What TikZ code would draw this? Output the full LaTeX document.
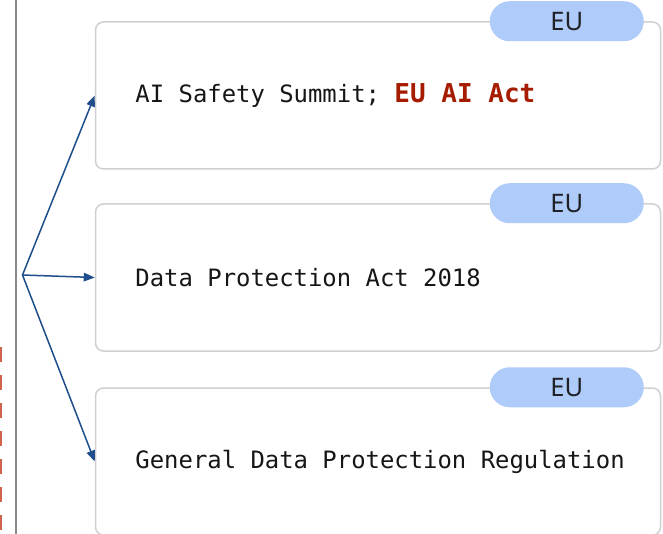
\documentclass[tikz,border=0pt]{standalone}
\usepackage{fontspec}
\setmonofont{DejaVu Sans Mono}
\newfontfamily\pillfont{Noto Sans}
\usetikzlibrary{arrows.meta,calc}
\definecolor{boxgray}{HTML}{D0D0D0}
\definecolor{railgray}{HTML}{8A8A8A}
\definecolor{pillblue}{HTML}{AECBFA}
\definecolor{pilltext}{HTML}{202124}
\definecolor{titleink}{HTML}{161616}
\definecolor{linkblue}{HTML}{1F4E8C}
\definecolor{actred}{HTML}{A61C00}
\definecolor{dashred}{HTML}{D0634C}
\newcommand{\actmark}[1]{{\fontsize{26pt}{28pt}\selectfont\bfseries\color{actred}#1}}
\tikzset{
  lawbox/.style={draw=boxgray, line width=1.5pt, rounded corners=8pt, fill=white,
    minimum height=147pt, minimum width=565pt, inner sep=0pt},
  lawtext/.style={anchor=west, inner sep=0pt, text=titleink,
    font=\ttfamily\fontsize{23.9pt}{28pt}\selectfont},
  regionpill/.style={fill=pillblue, rounded corners=20pt, minimum width=154pt,
    minimum height=40pt, inner sep=0pt, text=pilltext,
    font=\pillfont\fontsize{25.5pt}{28pt}\selectfont},
  link/.style={draw=linkblue, line width=1.5pt, -{Triangle[length=11pt,width=8.5pt]}}
}
\begin{document}
\begin{tikzpicture}[x=1pt,y=-1pt]
  \fill[white] (0,0) rectangle (663,534);
  \useasboundingbox (0,0) rectangle (663,534);

  % timeline rail and dashed marker
  \draw[railgray, line width=2pt] (15.5,0) -- (15.5,534);
  \draw[dashred, line width=2.2pt, dash pattern=on 15pt off 13pt] (0.5,347) -- (0.5,534);

  % event boxes
  \node[lawbox] (b1) at (378,95.5) {};
  \node[lawbox] (b2) at (378,277.5) {};
  \node[lawbox] (b3) at (378,461.5) {};

  % event titles
  \node[lawtext] (t1) at ($(b1.west)+(40.5,0)$) {AI Safety Summit; \actmark{EU AI Act}};
  \node[lawtext] (t2) at ($(b2.west)+(40.5,0)$) {Data Protection Act 2018};
  \node[lawtext] (t3) at ($(b3.west)+(40.5,0)$) {General Data Protection Regulation};

  % region tags
  \node[regionpill] (p1) at ($(b1.north east)+(-94.5,0)$) {EU};
  \node[regionpill] (p2) at ($(b2.north east)+(-94.5,0)$) {EU};
  \node[regionpill] (p3) at ($(b3.north east)+(-94.5,0)$) {EU};

  % fan-out connectors
  \coordinate (hub) at (22.5,275);
  \draw[link] (hub) -- (b1.west);
  \draw[link] (hub) -- (b2.west);
  \draw[link] (hub) -- (b3.west);
\end{tikzpicture}
\end{document}
